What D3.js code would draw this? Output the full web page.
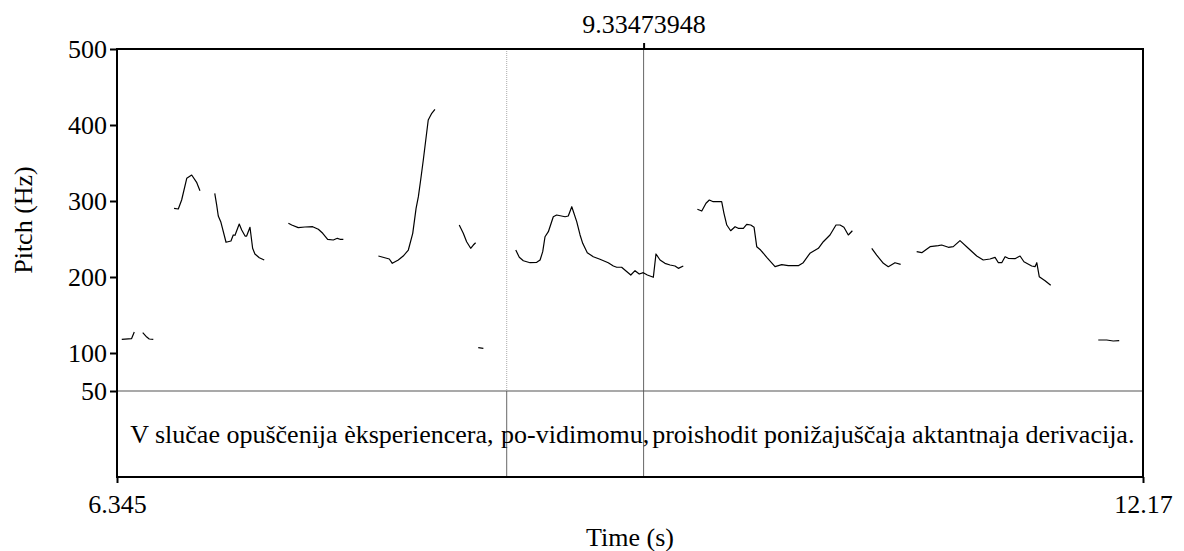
<!DOCTYPE html>
<html><head><meta charset="utf-8">
<script src="https://cdnjs.cloudflare.com/ajax/libs/d3/7.8.5/d3.min.js"></script>
<style>
html,body{margin:0;padding:0;background:#fff;}
svg{display:block;font-family:"Liberation Serif","Times New Roman",serif;}
</style></head>
<body><svg id="c" width="1184" height="551"></svg>
<script>
// ---- data ----
const timeDomain = [6.345, 12.17];
const pitchDomain = [50, 500];
const pitchTicks = [50, 100, 200, 300, 400, 500];
const timeTickLabels = ["6.345", "12.17"];
const cursorTime = 9.33473948;
const cursorLabel = "9.33473948";
const boundaries = [8.5575, 9.33473948];
const intervalTexts = ["V slučae opuščenija èksperiencera,", "po-vidimomu,", "proishodit ponižajuščaja aktantnaja derivacija."];
const xLabel = "Time (s)";
const yLabel = "Pitch (Hz)";

// pitch contour segments: [time (s), F0 (Hz)]
const seg1 = [[6.372,118],[6.428,119],[6.443,127.6]];
const seg2 = [[6.491,126.7],[6.514,121],[6.528,118.4],[6.551,118]];
const seg3 = [[6.669,290.4],[6.693,289.5],[6.712,301.3],[6.741,329.9],[6.769,334.2],[6.798,324.1],[6.816,313.6]];
const seg4 = [[6.900,310.1],[6.911,294.7],[6.920,280.3],[6.934,272.8],[6.964,245.7],[6.992,247.4],[7.005,255.3],[7.015,254.9],[7.039,269.7],[7.053,261.8],[7.072,253.9],[7.081,253.9],[7.100,265.4],[7.115,237.8],[7.128,230.3],[7.153,225.4],[7.181,222.4]];
const seg5 = [[7.318,270.7],[7.337,268.4],[7.374,264.9],[7.412,265.8],[7.456,266.2],[7.488,262.8],[7.513,257.5],[7.541,249.6],[7.573,248.7],[7.596,250.9],[7.611,249.6],[7.630,249.6]];
const seg6 = [[7.829,227.6],[7.891,223.7],[7.908,218.0],[7.942,222.4],[7.970,227.6],[7.999,235.5],[8.024,257.5],[8.043,290.4],[8.056,305.7],[8.069,327.6],[8.084,353.9],[8.112,406.6],[8.132,415.4],[8.150,420.7]];
const seg7 = [[8.288,268.4],[8.311,257.5],[8.330,246.4],[8.353,237.8],[8.368,242.1],[8.381,245.1]];
const seg8 = [[8.396,107],[8.425,106.2]];
const seg9 = [[8.609,235.5],[8.629,225.9],[8.652,221.4],[8.690,218.8],[8.728,219.3],[8.747,222.4],[8.762,233.3],[8.775,253.0],[8.794,259.6],[8.822,279.3],[8.841,281.6],[8.889,279.3],[8.907,280.3],[8.927,292.5],[8.955,272.8],[8.974,255.3],[8.989,244.3],[9.015,232.0],[9.049,226.7],[9.087,223.3],[9.134,218.8],[9.163,214.5],[9.182,212.8],[9.210,212.8],[9.235,207.9],[9.262,202.6],[9.286,208.3],[9.310,203.9],[9.333,205.7],[9.356,202.6],[9.390,199.6],[9.405,230.3],[9.428,222.4],[9.456,218.0],[9.485,215.8],[9.513,214.5],[9.532,211.4],[9.560,214.5]];
const seg10 = [[9.640,289.1],[9.665,286.8],[9.689,297.0],[9.708,301.3],[9.730,299.1],[9.778,299.1],[9.791,283.8],[9.807,268.4],[9.829,260.9],[9.854,266.2],[9.872,264.1],[9.901,264.1],[9.920,269.3],[9.943,268.4],[9.962,265.4],[9.977,239.9],[9.999,235.5],[10.034,225.9],[10.081,213.6],[10.119,216.2],[10.156,214.9],[10.213,214.9],[10.241,218.8],[10.279,231.2],[10.327,237.8],[10.355,246.4],[10.393,255.3],[10.427,268.4],[10.450,268.4],[10.472,265.4],[10.497,255.3],[10.520,260.9]];
const seg11 = [[10.630,237.8],[10.658,228.9],[10.696,218.0],[10.724,213.6],[10.762,218.8],[10.794,216.7]];
const seg12 = [[10.885,233.3],[10.914,232.0],[10.961,239.9],[11.008,241.2],[11.027,242.1],[11.065,239.1],[11.093,239.9],[11.131,247.8],[11.178,237.8],[11.226,227.6],[11.263,222.4],[11.301,223.7],[11.330,225.9],[11.349,218.8],[11.368,218.8],[11.387,226.7],[11.405,224.6],[11.443,224.1],[11.472,227.6],[11.494,220.1],[11.538,214.5],[11.557,213.6],[11.567,218.8],[11.581,200.4],[11.614,195.1],[11.646,189.1]];
const seg13 = [[11.916,117.1],[11.964,117.1],[12.001,115.8],[12.035,116.2]];
const segments = [seg1,seg2,seg3,seg4,seg5,seg6,seg7,seg8,seg9,seg10,seg11,seg12,seg13];

// ---- layout ----
const L = 117, R = 1143, T = 49, PB = 391, TB = 477;
const FS = 26;
const svg = d3.select("#c");
const x = d3.scaleLinear().domain(timeDomain).range([L, R]);
const y = d3.scaleLinear().domain(pitchDomain).range([PB, T]);

// tier boundaries: dotted in pitch area, solid in tier
boundaries.forEach((b, i) => {
  const isCursor = b === cursorTime;
  svg.append("line").attr("x1", x(b)).attr("x2", x(b)).attr("y1", T).attr("y2", PB)
    .attr("stroke", isCursor ? "#666" : "#aaa").attr("stroke-width", 1)
    .attr("stroke-dasharray", isCursor ? null : "1,1");
  svg.append("line").attr("x1", x(b)).attr("x2", x(b)).attr("y1", PB).attr("y2", TB)
    .attr("stroke", "#666").attr("stroke-width", 1);
});

// separator at 50 Hz
svg.append("line").attr("x1", L).attr("x2", R).attr("y1", y(50)).attr("y2", y(50))
  .attr("stroke", "#555").attr("stroke-width", 1.2);

// pitch contour
const line = d3.line().x(d => x(d[0])).y(d => y(d[1]));
svg.append("g").selectAll("path").data(segments).join("path")
  .attr("d", line).attr("fill", "none").attr("stroke", "#000").attr("stroke-width", 1.2)
  .attr("stroke-linejoin", "round");

// tier text
const edges = [timeDomain[0], ...boundaries, timeDomain[1]];
intervalTexts.forEach((t, i) => {
  svg.append("text").attr("x", (x(edges[i]) + x(edges[i + 1])) / 2).attr("y", 443)
    .attr("text-anchor", "middle").attr("font-size", FS).attr("fill", "#000").text(t);
});

// frame
svg.append("rect").attr("x", L).attr("y", T).attr("width", R - L).attr("height", TB - T)
  .attr("fill", "none").attr("stroke", "#000").attr("stroke-width", 2);

// axes
function styleAxis(g) {
  g.select(".domain").remove();
  g.selectAll(".tick line").attr("stroke", "#000").attr("stroke-width", 2);
  g.selectAll(".tick text").attr("font-size", FS).attr("font-family", "Liberation Serif").attr("fill", "#000");
}
svg.append("g").attr("transform", `translate(${L},0)`)
  .call(d3.axisLeft(y).tickValues(pitchTicks).tickSize(7).tickPadding(3).tickFormat(d3.format("d")))
  .call(styleAxis);
svg.append("g").attr("transform", `translate(0,${TB})`)
  .call(d3.axisBottom(x).tickValues(timeDomain).tickSize(6).tickPadding(12).tickFormat((d, i) => timeTickLabels[i]))
  .call(styleAxis);
svg.append("g").attr("transform", `translate(0,${T})`)
  .call(d3.axisTop(x).tickValues([cursorTime]).tickSize(6).tickPadding(10).tickFormat(() => cursorLabel))
  .call(styleAxis);

// axis titles
svg.append("text").attr("x", (L + R) / 2).attr("y", 546).attr("text-anchor", "middle")
  .attr("font-size", FS).text(xLabel);
svg.append("text").attr("transform", `translate(32,${(T + PB) / 2}) rotate(-90)`)
  .attr("text-anchor", "middle").attr("font-size", FS).text(yLabel);
</script></body></html>
